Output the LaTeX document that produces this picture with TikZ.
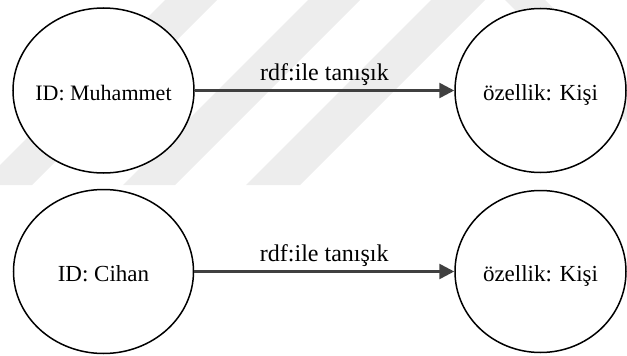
\documentclass[tikz,border=0pt]{standalone}
\usepackage{fontspec}
\setmainfont{Liberation Serif}
\usetikzlibrary{shapes.geometric,arrows.meta}
\definecolor{wm}{RGB}{237,237,237}
\begin{document}
\begin{tikzpicture}[x=1pt,y=-1pt,
  ent/.style={ellipse, draw=black, line width=1.5pt, fill=white, inner sep=0pt,
    text height=19pt, text depth=0pt, font=\fontsize{23}{28}\selectfont},
  conn/.style={draw=black!75, line width=2.6pt, -{Triangle[length=15pt,width=15pt]}},
  lbl/.style={font=\fontsize{24}{28}\selectfont, inner sep=0pt, anchor=base, yshift=10pt},
  wmark/.style={fill=wm, draw=none}]
\useasboundingbox (0,0) rectangle (627,356);
% faint watermark stripes
\path[wmark] (-20,185) -- (32,185) -- (217,0) -- (165,0) -- cycle;
\path[wmark] (123,185) -- (175,185) -- (360,0) -- (308,0) -- cycle;
\path[wmark] (246,185) -- (300,185) -- (485,0) -- (431,0) -- cycle;
\path[wmark] (505,0) -- (545,0) -- (627,82) -- (627,122) -- cycle;
% nodes
\node[ent, minimum width=181pt, minimum height=165pt, font=\fontsize{22}{28}\selectfont] (m) at (103.5,90.5) {\makebox[0pt]{ID: Muhammet}};
\node[ent, minimum width=171pt, minimum height=164pt] (k1) at (540.5,90.5) {\makebox[0pt]{özellik: Kişi}};
\node[ent, minimum width=180pt, minimum height=164pt] (c) at (103.5,271.5) {\makebox[0pt]{ID: Cihan}};
\node[ent, minimum width=171pt, minimum height=162pt] (k2) at (540.5,271.5) {\makebox[0pt]{özellik: Kişi}};
% connectors
\draw[conn] (m) -- node[lbl] {rdf:ile tanışık} (k1);
\draw[conn] (c) -- node[lbl] {rdf:ile tanışık} (k2);
\end{tikzpicture}
\end{document}
